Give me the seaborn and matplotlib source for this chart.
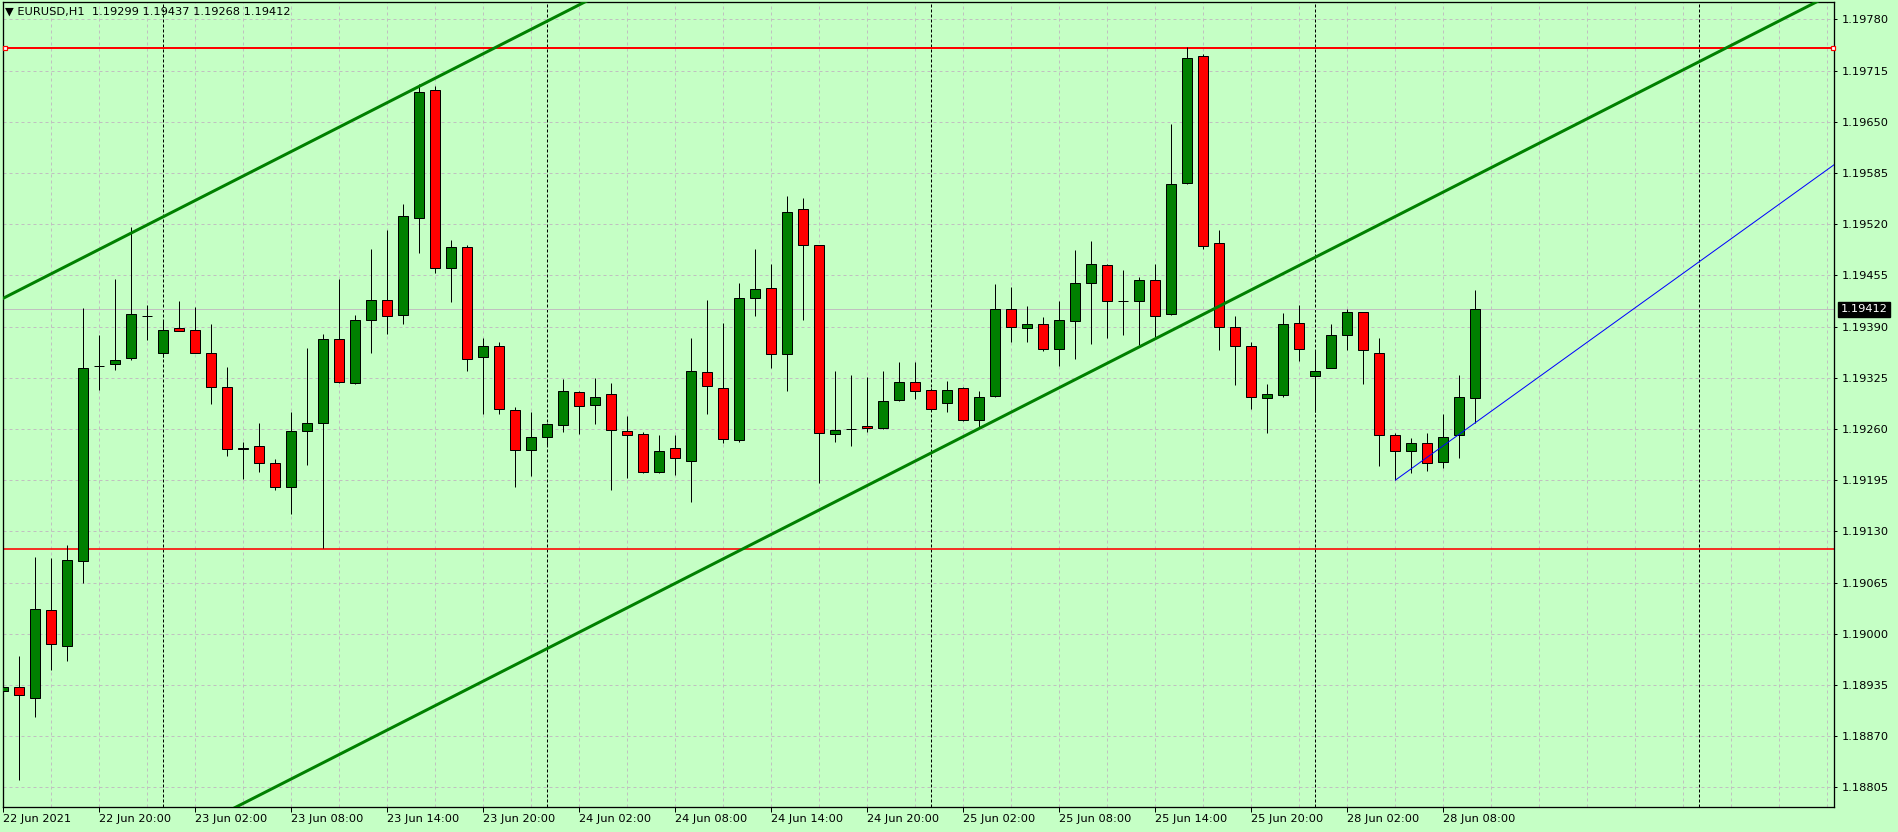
import numpy as np
import pandas as pd
import matplotlib
matplotlib.use("Agg")
import matplotlib.pyplot as plt
import matplotlib.transforms as mtransforms
import seaborn as sns

# ---------------- data ----------------
symbol = "EURUSD,H1"
session1 = pd.date_range("2021-06-22 14:00", "2021-06-25 23:00", freq="h")
session2 = pd.date_range("2021-06-28 00:00", "2021-06-28 10:00", freq="h")
bar_times = session1.append(session2)

opens = [1.18927, 1.18932, 1.18918, 1.19030, 1.18984, 1.19092, 1.19340, 1.19342, 1.19350, 1.19404,
         1.19356, 1.19388, 1.19386, 1.19357, 1.19313, 1.19234, 1.19239, 1.19217, 1.19187, 1.19257,
         1.19268, 1.19374, 1.19318, 1.19398, 1.19424, 1.19405, 1.19528, 1.19690, 1.19464, 1.19491,
         1.19351, 1.19365, 1.19284, 1.19233, 1.19250, 1.19265, 1.19307, 1.19290, 1.19304, 1.19258,
         1.19254, 1.19205, 1.19236, 1.19219, 1.19332, 1.19312, 1.19246, 1.19426, 1.19439, 1.19355,
         1.19539, 1.19493, 1.19254, 1.19260, 1.19264, 1.19261, 1.19297, 1.19320, 1.19310, 1.19293,
         1.19312, 1.19272, 1.19302, 1.19412, 1.19388, 1.19393, 1.19362, 1.19397, 1.19445, 1.19468,
         1.19422, 1.19422, 1.19449, 1.19406, 1.19572, 1.19733, 1.19496, 1.19390, 1.19365, 1.19299,
         1.19303, 1.19394, 1.19327, 1.19338, 1.19379, 1.19408, 1.19356, 1.19252, 1.19232, 1.19242,
         1.19218, 1.19252, 1.19299]
highs = [1.19020, 1.18972, 1.19097, 1.19096, 1.19113, 1.19413, 1.19379, 1.19450, 1.19516, 1.19417,
         1.19398, 1.19423, 1.19415, 1.19393, 1.19339, 1.19244, 1.19267, 1.19222, 1.19282, 1.19363,
         1.19381, 1.19451, 1.19405, 1.19489, 1.19512, 1.19545, 1.19698, 1.19695, 1.19500, 1.19493,
         1.19376, 1.19370, 1.19288, 1.19281, 1.19268, 1.19324, 1.19308, 1.19325, 1.19319, 1.19276,
         1.19256, 1.19253, 1.19253, 1.19376, 1.19424, 1.19394, 1.19445, 1.19489, 1.19470, 1.19556,
         1.19553, 1.19494, 1.19333, 1.19328, 1.19326, 1.19333, 1.19345, 1.19345, 1.19312, 1.19321,
         1.19313, 1.19308, 1.19444, 1.19440, 1.19416, 1.19402, 1.19422, 1.19487, 1.19499, 1.19469,
         1.19462, 1.19453, 1.19469, 1.19647, 1.19745, 1.19736, 1.19513, 1.19404, 1.19370, 1.19317,
         1.19407, 1.19418, 1.19360, 1.19393, 1.19412, 1.19409, 1.19375, 1.19255, 1.19248, 1.19255,
         1.19279, 1.19328, 1.19437]
lows = [1.18906, 1.18814, 1.18894, 1.18954, 1.18966, 1.19064, 1.19309, 1.19335, 1.19347, 1.19373,
        1.19351, 1.19385, 1.19357, 1.19292, 1.19226, 1.19196, 1.19206, 1.19183, 1.19152, 1.19214,
        1.19109, 1.19318, 1.19317, 1.19357, 1.19380, 1.19393, 1.19484, 1.19458, 1.19421, 1.19334,
        1.19279, 1.19279, 1.19187, 1.19200, 1.19240, 1.19256, 1.19254, 1.19266, 1.19183, 1.19198,
        1.19204, 1.19204, 1.19201, 1.19167, 1.19279, 1.19242, 1.19243, 1.19403, 1.19337, 1.19308,
        1.19398, 1.19192, 1.19244, 1.19238, 1.19256, 1.19260, 1.19296, 1.19298, 1.19283, 1.19282,
        1.19270, 1.19262, 1.19300, 1.19370, 1.19370, 1.19359, 1.19340, 1.19349, 1.19368, 1.19375,
        1.19379, 1.19367, 1.19377, 1.19405, 1.19571, 1.19489, 1.19360, 1.19316, 1.19285, 1.19255,
        1.19300, 1.19346, 1.19281, 1.19337, 1.19360, 1.19317, 1.19213, 1.19195, 1.19204, 1.19207,
        1.19210, 1.19223, 1.19268]
closes = [1.18932, 1.18922, 1.19031, 1.18987, 1.19094, 1.19338, 1.19340, 1.19348, 1.19406, 1.19403,
          1.19386, 1.19385, 1.19357, 1.19313, 1.19235, 1.19236, 1.19217, 1.19186, 1.19258, 1.19268,
          1.19374, 1.19320, 1.19398, 1.19424, 1.19403, 1.19530, 1.19688, 1.19464, 1.19491, 1.19349,
          1.19365, 1.19285, 1.19233, 1.19250, 1.19266, 1.19308, 1.19289, 1.19301, 1.19259, 1.19252,
          1.19205, 1.19232, 1.19223, 1.19334, 1.19315, 1.19247, 1.19426, 1.19438, 1.19355, 1.19535,
          1.19493, 1.19255, 1.19259, 1.19260, 1.19261, 1.19296, 1.19320, 1.19308, 1.19285, 1.19310,
          1.19271, 1.19300, 1.19412, 1.19389, 1.19393, 1.19361, 1.19398, 1.19445, 1.19470, 1.19422,
          1.19422, 1.19449, 1.19404, 1.19571, 1.19731, 1.19492, 1.19390, 1.19365, 1.19300, 1.19304,
          1.19393, 1.19361, 1.19333, 1.19379, 1.19408, 1.19360, 1.19253, 1.19232, 1.19242, 1.19217,
          1.19250, 1.19300, 1.19412]

x_tick_labels = ["22 Jun 2021", "22 Jun 20:00", "23 Jun 02:00", "23 Jun 08:00", "23 Jun 14:00",
                 "23 Jun 20:00", "24 Jun 02:00", "24 Jun 08:00", "24 Jun 14:00", "24 Jun 20:00",
                 "25 Jun 02:00", "25 Jun 08:00", "25 Jun 14:00", "25 Jun 20:00", "28 Jun 02:00",
                 "28 Jun 08:00"]
price_ticks = [1.18805, 1.18870, 1.18935, 1.19000, 1.19065, 1.19130, 1.19195, 1.19260,
               1.19325, 1.19390, 1.19455, 1.19520, 1.19585, 1.19650, 1.19715, 1.19780]

# drawn objects (anchor bar index, price)
channel_upper_bars = [0, 26]
channel_upper_prices = [1.19426, 1.19695]
channel_lower_bar = 56
channel_lower_price = 1.19209
trend_bars = [87, 92]
trend_prices = [1.19195, 1.19268]
resistance_level = 1.19743
support_level = 1.19108
day_separator_bars = [10, 34, 58, 82, 106]

# ---------------- style ----------------
sns.set_theme(style="white")
plt.rcParams['font.family'] = ['DejaVu Sans']
PX = 0.72  # one pixel in points at 100 dpi
BG = "#c5ffc5"
GREEN = "#008000"
RED = "#ff0000"
GRID = "#c0c0c0"
FS = 8.2

W, H = 1898, 832
ax_left, ax_right, ax_top, ax_bottom = 2.5, 1834.3, 2.0, 807.0
ax_w = ax_right - ax_left

fig = plt.figure(figsize=(W / 100, H / 100), dpi=100, facecolor=BG)
ax = fig.add_axes([ax_left / W, (H - ax_bottom) / H, ax_w / W, (ax_bottom - ax_top) / H])
ax.set_facecolor(BG)

n = len(opens)
xs = np.arange(n)
o = np.array(opens); h = np.array(highs); l = np.array(lows); c = np.array(closes)
x_min, x_max = -0.05, 114.44
y_min, y_max = 1.187802, 1.198020
ax.set_xlim(x_min, x_max)
ax.set_ylim(y_min, y_max)

# grid
ax.set_yticks(price_ticks)
ax.set_yticklabels([f"{p:.5f}" for p in price_ticks])
ax.set_xticks(np.arange(0, n, 6))
ax.set_xticklabels(x_tick_labels)
ax.set_xticks(np.arange(0, 115, 3), minor=True)
ax.grid(True, which='both', axis='x', color=GRID, lw=PX, linestyle=(0, (3, 3)))
ax.grid(True, which='major', axis='y', color=GRID, lw=PX, linestyle=(0, (3, 3)))
ax.set_axisbelow(True)

# day separators
for b in day_separator_bars:
    ax.axvline(b, color="black", lw=PX, linestyle=(0, (3, 2)), zorder=1.5)

# horizontal levels
ax.axhline(c[-1], color="#c0c0c0", lw=PX, zorder=1.6)
ax.axhline(support_level, color=RED, lw=1.6 * PX, zorder=2)
ax.axhline(resistance_level, color=RED, lw=2 * PX, zorder=2)
ax.plot([0.1, x_max - 0.1], [resistance_level, resistance_level], linestyle='none', marker='s',
        markersize=4 * PX, markerfacecolor='white', markeredgecolor=RED, markeredgewidth=1.2 * PX,
        zorder=6, clip_on=False)

# channel lines
slope = (channel_upper_prices[1] - channel_upper_prices[0]) / (channel_upper_bars[1] - channel_upper_bars[0])
ext = np.array([x_min - 1, x_max + 1])
upper_y = channel_upper_prices[0] + slope * (ext - channel_upper_bars[0])
lower_y = channel_lower_price + slope * (ext - channel_lower_bar)
sns.lineplot(x=ext, y=upper_y, ax=ax, color=GREEN, lw=3 * PX, zorder=5)
sns.lineplot(x=ext, y=lower_y, ax=ax, color=GREEN, lw=3 * PX, zorder=5)

# blue trend ray
tslope = (trend_prices[1] - trend_prices[0]) / (trend_bars[1] - trend_bars[0])
tx = np.array([trend_bars[0], x_max + 1])
ty = trend_prices[0] + tslope * (tx - trend_bars[0])
sns.lineplot(x=tx, y=ty, ax=ax, color="#0000ff", lw=1.0 * PX, zorder=5)

# candles
up = c >= o
ax.vlines(xs, l, h, color="black", lw=1.0 * PX, zorder=3)
ax.bar(xs, np.abs(c - o), bottom=np.minimum(o, c), width=0.625,
       color=np.where(up, GREEN, RED), edgecolor="black", linewidth=1.0 * PX, zorder=4)

# axes styling
ax.yaxis.tick_right()
ax.tick_params(axis='y', which='major', direction='out', length=3 * PX, width=PX,
               pad=3.2, labelsize=FS, colors='black', right=True, left=False)
ax.tick_params(axis='x', which='major', direction='out', length=5 * PX, width=PX,
               pad=1.5, labelsize=FS, colors='black', bottom=True)
ax.tick_params(axis='x', which='minor', length=0)
for lbl in ax.get_xticklabels():
    lbl.set_horizontalalignment('left')
for sp in ax.spines.values():
    sp.set_color('black')
    sp.set_linewidth(1.3 * PX)
    sp.set_visible(True)

# current price tag
trans = mtransforms.blended_transform_factory(ax.transAxes, ax.transData)
ax.text(1.0 + 6 / ax_w, c[-1], f"{c[-1]:.5f}", transform=trans, ha='left', va='center',
        color='white', fontsize=FS, clip_on=False, zorder=10,
        bbox=dict(boxstyle='square,pad=0.22', fc='black', ec='black'))

# title
title = f"\u25BC {symbol}  {o[-1]:.5f} {h[-1]:.5f} {l[-1]:.5f} {c[-1]:.5f}"
ax.text(2.5 / ax_w, 1 - 4.5 / 805, title, transform=ax.transAxes, ha='left', va='top',
        fontsize=FS, color='black', zorder=10)

fig.savefig("out.png", dpi=100, facecolor=BG)
